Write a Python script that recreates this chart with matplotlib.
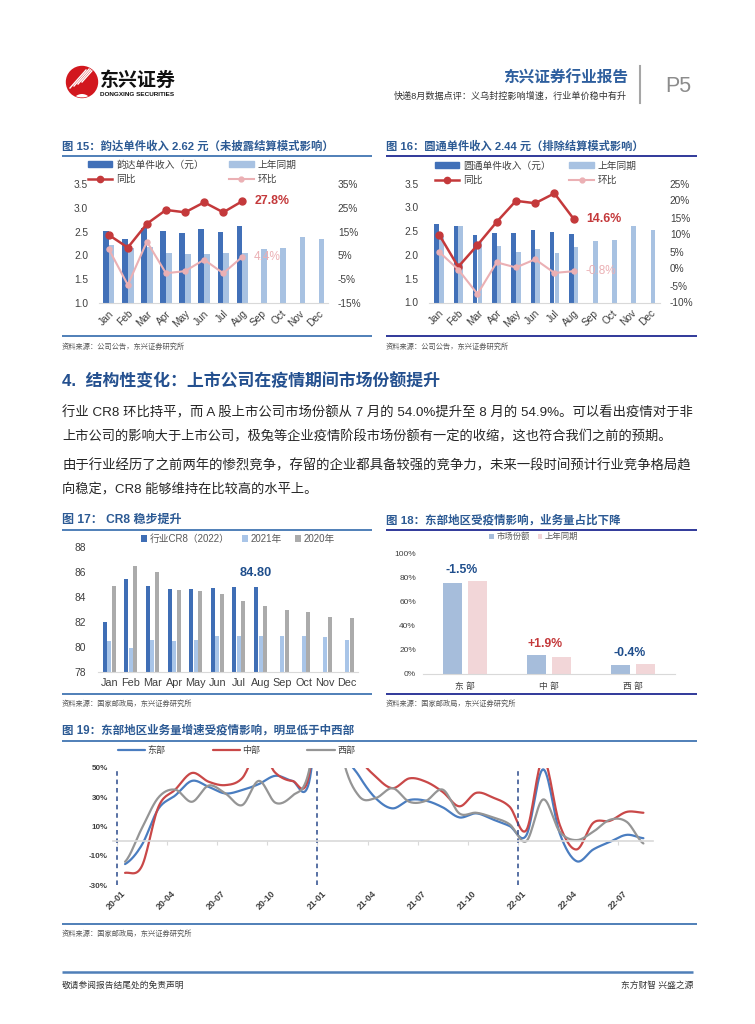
import numpy as np
import matplotlib
matplotlib.use('Agg')
import matplotlib.pyplot as plt
from matplotlib.patches import Patch, Circle
from matplotlib.lines import Line2D
from matplotlib.ticker import FuncFormatter
import matplotlib.transforms as mtrans

plt.rcParams['font.family'] = ['Liberation Sans', 'Noto Sans CJK SC', 'DejaVu Sans']
plt.rcParams['axes.unicode_minus'] = False

# ---------------- data ----------------
months = ['Jan', 'Feb', 'Mar', 'Apr', 'May', 'Jun', 'Jul', 'Aug', 'Sep', 'Oct', 'Nov', 'Dec']

yd_price = [2.52, 2.34, 2.58, 2.52, 2.48, 2.56, 2.50, 2.62]
yd_price_ly = [2.22, 2.16, 2.18, 2.04, 2.02, 2.02, 2.04, 2.06, 2.14, 2.16, 2.38, 2.34]
yd_yoy = [13.6, 8.3, 18.3, 24.1, 23.1, 27.3, 23.1, 27.8]
yd_mom = [7.7, -7.4, 10.8, -2.5, -1.6, 3.2, -2.5, 4.4]

yt_price = [2.64, 2.61, 2.41, 2.46, 2.46, 2.52, 2.48, 2.44]
yt_price_ly = [2.40, 2.61, 2.27, 2.18, 2.06, 2.12, 2.04, 2.16, 2.29, 2.32, 2.61, 2.52]
yt_yoy = [10.0, 0.5, 6.9, 13.7, 19.9, 19.2, 22.1, 14.6]
yt_mom = [4.9, -0.3, -7.5, 1.8, 0.3, 2.7, -1.3, -0.8]

cr8_2022 = [82.0, 85.4, 84.9, 84.6, 84.6, 84.7, 84.8, 84.8]
cr8_2021 = [80.45, 79.9, 80.5, 80.45, 80.5, 80.85, 80.85, 80.85, 80.85, 80.85, 80.75, 80.5]
cr8_2020 = [84.9, 86.45, 86.0, 84.55, 84.5, 84.2, 83.65, 83.25, 82.95, 82.75, 82.4, 82.3]

regions = ['东 部', '中 部', '西 部']
share_now = [76.0, 15.8, 7.6]
share_ly = [77.5, 13.9, 8.0]
share_diff = ['-1.5%', '+1.9%', '-0.4%']

growth_months = [f'{y}-{m:02d}' for y in (20, 21, 22) for m in range(1, 13)][:32]
growth_ticks = ['20-01', '20-04', '20-07', '20-10', '21-01', '21-04', '21-07', '21-10', '22-01', '22-04', '22-07']
east = [-15.7, -2.7, 22.2, 31.2, 41.2, 37.1, 32.6, 34.9, 39.0, 44.7, 41.2, 40.0,
        130, 66, 44.5, 29.2, 22.4, 28.1, 27.6, 23.1, 16.2, 19.0, 14.8, 10.3,
        4.0, 49.1, 5.2, -13.7, -5.7, -0.5, 4.3, 2.0]
central = [-21.7, -17.2, 23.5, 35.2, 46.6, 40.6, 38.3, 43.0, 62.0, 46.6, 41.2, 45.0,
           150, 90, 58, 44.0, 36.2, 42.9, 40.6, 33.6, 23.8, 33.0, 29.8, 23.5,
           7.5, 56, 11.0, -5.7, 12.5, 13.9, 20.0, 19.4]
west = [-14.1, 8.7, 29.9, 35.2, 26.9, 38.0, 32.6, 24.6, 41.2, 26.2, 31.0, 48.0,
        130, 58, 30.7, 29.5, 36.2, 26.9, 27.6, 35.2, 18.9, 19.4, 16.2, 11.5,
        0.0, 28.5, 6.4, 0.7, 6.4, 14.6, 13.2, -1.6]

# ---------------- styles ----------------
W, H = 755, 1024
C_TITLE = '#2C5A94'
C_RULE1 = '#4F7FB8'
C_RULE2 = '#30399A'
C_DARK = '#4170B8'
C_LIGHT = '#A8C2E2'
C_RED = '#C4393B'
C_PINK = '#EBB0B4'
TXT = '#404040'

fig = plt.figure(figsize=(W / 100, H / 100), dpi=100)
renderer = fig.canvas.get_renderer()


def px_rect(x0, y0, x1, y1):
    return [x0 / W, 1 - y1 / H, (x1 - x0) / W, (y1 - y0) / H]


bg = fig.add_axes([0, 0, 1, 1], zorder=10)
bg.set_xlim(0, W)
bg.set_ylim(H, 0)
bg.axis('off')


def txt(x, y, s, size, color='#222222', weight='normal', ha='left', va='center', width=None, **kw):
    t = bg.text(x, y, s, fontsize=size, color=color, fontweight=weight, ha=ha, va=va, **kw)
    if width:
        w = t.get_window_extent(renderer).width
        t.set_fontsize(size * width / w)
    return t


def rule(x0, x1, y, color, lw=1.2):
    bg.plot([x0, x1], [y, y], color=color, lw=lw, solid_capstyle='butt')


# ---------------- header ----------------
logo = Circle((82, 82), 15.5, color='#D2171E')
bg.add_patch(logo)
for k in range(4):
    ln, = bg.plot([70 + 4 * k, 86 + 4 * k], [88 - 2 * k, 70 - 2 * k], color='white', lw=1.0)
    ln.set_clip_path(logo)
arch = Circle((82, 104), 10, facecolor='white', edgecolor='none')
bg.add_patch(arch)
arch.set_clip_path(logo)
inner = Circle((82, 104), 6.5, facecolor='#D2171E', edgecolor='none')
bg.add_patch(inner)
inner.set_clip_path(logo)
txt(100, 81, '东兴证券', 14, color='#111111', weight='bold', width=76)
txt(100, 95, 'DONGXING SECURITIES', 5, color='#111111', weight='bold', width=76)
txt(628, 78, '东兴证券行业报告', 11, color='#2E5F9E', weight='bold', ha='right', width=125)
txt(627, 96, '快递8月数据点评：义乌封控影响增速，行业单价稳中有升', 6, color='#333333', ha='right', width=233)
bg.plot([640, 640], [66, 103], color='#A6A6A6', lw=1.5)
txt(665, 86, 'P5', 15.5, color='#8C8C8C')

# ---------------- chart 15 / 16 ----------------
txt(62, 146, '图 15：韵达单件收入 2.62 元（未披露结算模式影响）', 8, color=C_TITLE, weight='bold', width=272)
txt(386, 146, '图 16：圆通单件收入 2.44 元（排除结算模式影响）', 8, color=C_TITLE, weight='bold', width=258)
rule(62, 372, 156, C_RULE1, 1.4)
rule(386, 697, 156, C_RULE2, 1.4)
rule(62, 372, 336, C_RULE1, 1.4)
rule(386, 697, 336, C_RULE2, 1.4)
txt(62, 347, '资料来源：公司公告，东兴证券研究所', 5.2, color='#555555')
txt(386, 347, '资料来源：公司公告，东兴证券研究所', 5.2, color='#555555')


def price_chart(box, price, price_ly, yoy, mom, rlim, rstep, bw, off, name, leg_xy, colsp):
    ax = fig.add_axes(px_rect(*box))
    ax.set_facecolor('none')
    xi = np.arange(len(months))
    ax.bar(np.arange(len(price)) - off, price, bw, color=C_DARK, zorder=2)
    ax.bar(xi + off, price_ly, bw, color=C_LIGHT, zorder=2)
    ax.set_xlim(-0.5, 11.5)
    ax.set_ylim(1.0, 3.5)
    ax.set_yticks(np.arange(1.0, 3.51, 0.5))
    ax.yaxis.set_major_formatter(FuncFormatter(lambda v, p: f'{v:.1f}'))
    ax.set_xticks(xi)
    ax.set_xticklabels(months, rotation=45, ha='right', rotation_mode='anchor')
    for s in ['top', 'left', 'right']:
        ax.spines[s].set_visible(False)
    ax.spines['bottom'].set_color('#D9D9D9')
    ax.tick_params(length=0, labelsize=7.3, labelcolor=TXT)
    ax.tick_params(axis='y', pad=8)
    ax.tick_params(axis='x', pad=4)
    ax2 = ax.twinx()
    ax2.set_facecolor('none')
    ix = np.arange(len(yoy))
    ax2.plot(ix, yoy, color=C_RED, lw=1.8, marker='o', ms=5, zorder=3)
    ax2.plot(ix, mom, color=C_PINK, lw=1.5, marker='o', ms=3.6, zorder=3)
    ax2.set_ylim(*rlim)
    ax2.set_yticks(np.arange(rlim[0], rlim[1] + 0.1, rstep))
    ax2.yaxis.set_major_formatter(FuncFormatter(lambda v, p: f'{v:.0f}%'))
    for s in ax2.spines.values():
        s.set_visible(False)
    ax2.tick_params(length=0, labelsize=7.3, labelcolor=TXT, pad=7)
    ax2.annotate(f'{yoy[-1]:.1f}%', xy=(ix[-1], yoy[-1]), xytext=(9, 0), textcoords='offset points',
                 color=C_RED, fontsize=8.9, fontweight='bold', ha='left', va='center')
    ax2.annotate(f'{mom[-1]:.1f}%', xy=(ix[-1], mom[-1]), xytext=(8.5, 0), textcoords='offset points',
                 color=C_PINK, fontsize=8.5, ha='left', va='center')
    handles = [Patch(color=C_DARK), Line2D([], [], color=C_RED, marker='o', ms=4.5, lw=1.8),
               Patch(color=C_LIGHT), Line2D([], [], color=C_PINK, marker='o', ms=3.5, lw=1.5)]
    labels = [name, '同比', '上年同期', '环比']
    fig.legend(handles, labels, ncol=2, loc='center left', bbox_to_anchor=(leg_xy[0] / W, 1 - leg_xy[1] / H),
               frameon=False, fontsize=7.0, handlelength=2.5, handleheight=0.6, handletextpad=0.4,
               columnspacing=colsp, labelspacing=0.45, borderpad=0, borderaxespad=0, labelcolor=TXT)
    return ax


price_chart((99.2, 184, 328.2, 303), yd_price, yd_price_ly, yd_yoy, yd_mom, (-15, 35), 10, 0.3, 0.15,
            '韵达单件收入（元）', (88, 172), 2.6)
price_chart((429.4, 183.5, 660.2, 302.5), yt_price, yt_price_ly, yt_yoy, yt_mom, (-10, 25), 5, 0.235, 0.125,
            '圆通单件收入（元）', (435, 173), 1.9)

# ---------------- text section ----------------
txt(62, 381, '4.  结构性变化：上市公司在疫情期间市场份额提升', 12, color='#24508F', weight='bold', width=378)
body = ['行业 CR8 环比持平，而 A 股上市公司市场份额从 7 月的 54.0%提升至 8 月的 54.9%。可以看出疫情对于非',
        '上市公司的影响大于上市公司，极兔等企业疫情阶段市场份额有一定的收缩，这也符合我们之前的预期。',
        '由于行业经历了之前两年的惨烈竞争，存留的企业都具备较强的竞争力，未来一段时间预计行业竞争格局趋',
        '向稳定，CR8 能够维持在比较高的水平上。']
body_y = [413, 437, 466, 490]
body_w = [631, None, 631, None]
for s, y, w in zip(body, body_y, body_w):
    txt(62, y, s, 9.5, color='#262626', width=w)

# ---------------- chart 17 ----------------
txt(62, 520, '图 17： CR8 稳步提升', 8, color=C_TITLE, weight='bold', width=120)
rule(62, 372, 530, C_RULE1, 1.4)
rule(62, 372, 694, C_RULE1, 1.4)
txt(62, 704, '资料来源：国家邮政局，东兴证券研究所', 5.2, color='#555555')

ax = fig.add_axes(px_rect(98.4, 547, 357.8, 671.5))
ax.set_facecolor('none')
xi = np.arange(len(months))
ax.bar(np.arange(len(cr8_2022)) - 0.21, cr8_2022, 0.185, color='#3F6EB5', label='行业CR8（2022）')
ax.bar(xi, cr8_2021, 0.185, color='#A9C5E8', label='2021年')
ax.bar(xi + 0.21, cr8_2020, 0.185, color='#ABABAB', label='2020年')
ax.set_xlim(-0.5, 11.5)
ax.set_ylim(78, 88)
ax.set_yticks(np.arange(78, 89, 2))
ax.set_xticks(xi)
ax.set_xticklabels(months)
for s in ['top', 'left', 'right']:
    ax.spines[s].set_visible(False)
ax.spines['bottom'].set_color('#D9D9D9')
ax.tick_params(length=0, labelcolor=TXT)
ax.tick_params(axis='x', labelsize=7.8, pad=5)
ax.tick_params(axis='y', labelsize=7.4, pad=9)
ax.annotate(f'{cr8_2022[6]:.2f}', xy=(6, cr8_2022[6]), xytext=(12, 10), textcoords='offset points',
            color='#1F4E8C', fontsize=9.2, fontweight='bold', ha='center', va='center')
ax.legend(ncol=3, loc='center left', bbox_to_anchor=(141 / W, 1 - 539 / H), bbox_transform=fig.transFigure,
          frameon=False, fontsize=7, handlelength=0.6, handleheight=0.6, handletextpad=0.3,
          columnspacing=1.3, borderpad=0, borderaxespad=0, labelcolor='#595959')

# ---------------- chart 18 ----------------
txt(386, 520, '图 18：东部地区受疫情影响，业务量占比下降', 8, color=C_TITLE, weight='bold', width=234)
rule(386, 697, 530, C_RULE2, 1.4)
rule(386, 697, 694, C_RULE2, 1.4)
txt(386, 704, '资料来源：国家邮政局，东兴证券研究所', 5.2, color='#555555')

ax = fig.add_axes(px_rect(423, 554, 675, 674))
ax.set_facecolor('none')
ri = np.arange(len(regions))
ax.bar(ri - 0.148, share_now, 0.226, color='#A6BDDB', label='市场份额')
ax.bar(ri + 0.148, share_ly, 0.226, color='#F2D6D8', label='上年同期')
ax.set_xlim(-0.5, 2.5)
ax.set_ylim(0, 100)
ax.set_yticks(np.arange(0, 101, 20))
ax.yaxis.set_major_formatter(FuncFormatter(lambda v, p: f'{v:.0f}%'))
ax.set_xticks(ri)
ax.set_xticklabels(regions)
for s in ['top', 'left', 'right']:
    ax.spines[s].set_visible(False)
ax.spines['bottom'].set_color('#D9D9D9')
ax.tick_params(length=0, labelcolor=TXT)
ax.tick_params(axis='x', labelsize=6.3, pad=6)
ax.tick_params(axis='y', labelsize=6.0, pad=5)
for i, lab in enumerate(share_diff):
    col = '#C4393B' if lab.startswith('+') else '#1F4E8C'
    ax.annotate(lab, xy=(i, max(share_now[i], share_ly[i])), xytext=(-2.5, 8), textcoords='offset points',
                color=col, fontsize=8.8, fontweight='bold', ha='center', va='center')
ax.legend(ncol=2, loc='center left', bbox_to_anchor=(489 / W, 1 - 537 / H), bbox_transform=fig.transFigure,
          frameon=False, fontsize=6, handlelength=0.55, handleheight=0.55, handletextpad=0.35,
          columnspacing=0.9, borderpad=0, borderaxespad=0, labelcolor='#595959')

# ---------------- chart 19 ----------------
txt(62, 731, '图 19：东部地区业务量增速受疫情影响，明显低于中西部', 8, color=C_TITLE, weight='bold', width=293)
rule(62, 697, 741, C_RULE1, 1.4)
rule(62, 697, 924, C_RULE1, 1.4)
txt(62, 934, '资料来源：国家邮政局，东兴证券研究所', 5.2, color='#555555')


def smooth(vals, n=16):
    y = np.asarray(vals, float)
    x = np.arange(len(y), dtype=float)
    yp = np.concatenate([[y[0]], y, [y[-1]]])
    t = np.linspace(0, 1, n, endpoint=False)
    h00 = 2 * t ** 3 - 3 * t ** 2 + 1
    h10 = t ** 3 - 2 * t ** 2 + t
    h01 = -2 * t ** 3 + 3 * t ** 2
    h11 = t ** 3 - t ** 2
    xs, ys = [], []
    for i in range(len(y) - 1):
        p0, p1, p2, p3 = yp[i], yp[i + 1], yp[i + 2], yp[i + 3]
        m1, m2 = (p2 - p0) / 2, (p3 - p1) / 2
        xs.append(x[i] + t)
        ys.append(h00 * p1 + h10 * m1 + h01 * p2 + h11 * m2)
    xs.append([x[-1]])
    ys.append([y[-1]])
    return np.concatenate(xs), np.concatenate(ys)


ax = fig.add_axes(px_rect(113.3, 768, 652.6, 885))
ax.set_facecolor('none')
for vals, col, lab in [(east, '#4A7DC0', '东部'), (central, '#C94848', '中部'), (west, '#959595', '西部')]:
    sx, sy = smooth(vals)
    ax.plot(sx, sy, color=col, lw=1.6, label=lab, solid_capstyle='round')
ax.set_xlim(-0.703, 31.55)
ax.set_ylim(-30, 50)
ax.set_yticks([-30, -10, 10, 30, 50])
ax.yaxis.set_major_formatter(FuncFormatter(lambda v, p: f'{v:.0f}%'))
for s in ['top', 'left', 'right']:
    ax.spines[s].set_visible(False)
ax.spines['bottom'].set_position(('data', 0))
ax.spines['bottom'].set_color('#D9D9D9')
ax.spines['bottom'].set_linewidth(1.2)
boundaries = [growth_months.index(m) - 0.5 for m in growth_ticks]
ax.set_xticks(boundaries)
ax.tick_params(axis='x', length=3, color='#D9D9D9', labelbottom=False)
ax.tick_params(axis='y', length=0, labelsize=5.8, labelcolor=TXT, pad=4)
for lab in ax.get_yticklabels():
    lab.set_fontweight('bold')
for b in [growth_months.index(m) - 0.5 for m in ('20-01', '21-01', '22-01')]:
    ax.axvline(b, color='#2B4A8B', lw=1.1, ls=(0, (3, 2.5)))
trans = mtrans.blended_transform_factory(ax.transData, ax.transAxes)
for b, lab in zip(boundaries, growth_ticks):
    ax.text(b + 0.25, -0.035, lab, transform=trans, rotation=45, ha='right', va='top', rotation_mode='anchor',
            fontsize=6.4, fontweight='bold', color=TXT)
ax.legend(ncol=3, loc='center left', bbox_to_anchor=(118 / W, 1 - 751 / H), bbox_transform=fig.transFigure,
          frameon=False, fontsize=6.5, handlelength=3.0, handletextpad=0.3, columnspacing=5.2,
          borderpad=0, borderaxespad=0, labelcolor=TXT)

# ---------------- footer ----------------
rule(62, 693, 972, C_RULE1, 1.8)
txt(62, 985, '敬请参阅报告结尾处的免责声明', 6.3, color='#333333')
txt(693, 985, '东方财智 兴盛之源', 6.3, color='#333333', ha='right')

fig.savefig('out.png', dpi=100)
